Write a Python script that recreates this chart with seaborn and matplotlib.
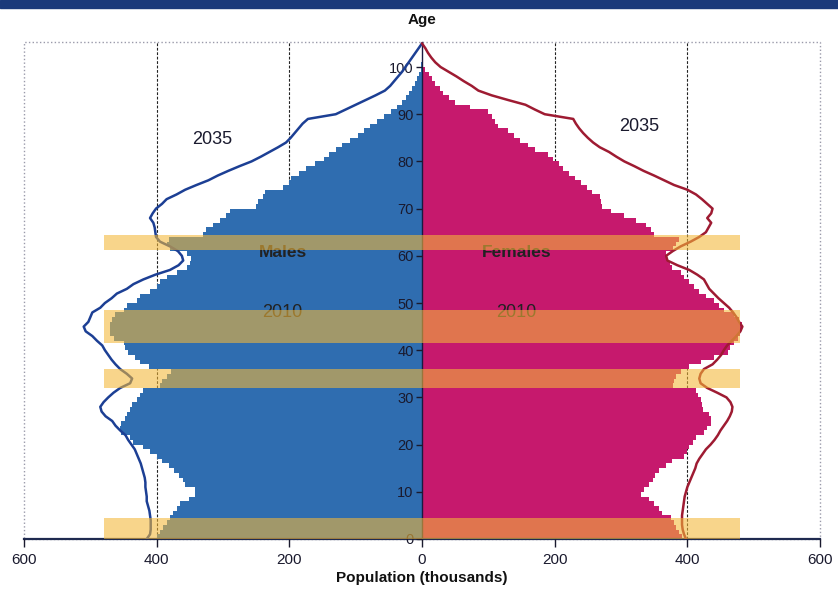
import numpy as np
import pandas as pd
import matplotlib
matplotlib.use("Agg")
import matplotlib.pyplot as plt
import seaborn as sns
from matplotlib.patches import Rectangle

# ------------------------------------------------------------------
# Data (thousands)
# ------------------------------------------------------------------
ages = np.arange(0, 101)

male_2010 = [
    400, 395, 390, 385, 380, 375, 370, 365, 352, 342,
    342, 357, 360, 367, 374, 382, 392, 400, 410, 420,
    435, 440, 454, 455, 454, 447, 445, 440, 437, 430,
    425, 420, 395, 392, 385, 378, 412, 425, 432, 443,
    447, 450, 465, 470, 470, 470, 468, 463, 450, 445,
    430, 425, 410, 400, 395, 385, 370, 355, 350, 348,
    355, 380, 385, 382, 330, 325, 315, 305, 295, 290,
    250, 247, 240, 236, 210, 200, 198, 185, 175, 162,
    148, 140, 130, 120, 108, 96, 88, 78, 68, 57,
    46, 38, 30, 24, 19, 15, 11, 7, 4, 2,
    1,
]

female_2010 = [
    392, 387, 383, 380, 376, 362, 358, 350, 342, 330,
    335, 342, 348, 352, 358, 368, 377, 395, 400, 403,
    408, 413, 425, 430, 436, 436, 432, 423, 422, 420,
    416, 413, 378, 380, 383, 390, 403, 420, 440, 461,
    465, 471, 476, 480, 482, 482, 478, 470, 455, 448,
    440, 428, 418, 410, 402, 395, 390, 377, 374, 370,
    368, 378, 383, 387, 350, 345, 337, 322, 305, 285,
    272, 270, 268, 256, 248, 240, 230, 221, 213, 206,
    198, 190, 170, 160, 148, 138, 130, 115, 110, 105,
    100, 72, 50, 40, 32, 27, 20, 15, 10, 5,
    2,
]

line_ages = np.arange(0, 106)

male_2035 = [
    415, 410, 409, 409, 409, 410, 411, 413, 415, 415,
    416, 417, 417, 418, 420, 422, 424, 427, 430, 433,
    438, 443, 447, 455, 462, 467, 477, 483, 485, 480,
    473, 465, 455, 440, 437, 445, 455, 462, 468, 473,
    478, 482, 490, 497, 507, 510, 503, 500, 497, 485,
    478, 468, 460, 445, 435, 420, 402, 380, 367, 360,
    362, 368, 380, 395, 401, 402, 403, 405, 410, 406,
    401, 392, 385, 370, 357, 340, 322, 308, 292, 275,
    257, 243, 230, 217, 205, 198, 192, 186, 180, 172,
    130, 115, 100, 85, 70, 56, 48, 42, 36, 30,
    25, 20, 15, 10, 5, 0,
]

female_2035 = [
    398, 395, 393, 392, 392, 392, 393, 394, 395, 396,
    398, 400, 403, 406, 409, 412, 414, 418, 423, 428,
    435, 441, 446, 450, 455, 460, 464, 467, 468, 465,
    459, 445, 430, 420, 418, 420, 425, 438, 445, 451,
    455, 460, 467, 474, 480, 483, 478, 474, 469, 463,
    455, 447, 440, 433, 429, 425, 415, 403, 385, 370,
    368, 378, 390, 405, 418, 428, 432, 436, 430, 436,
    438, 430, 422, 413, 400, 380, 365, 350, 334, 320,
    305, 293, 282, 268, 258, 250, 243, 237, 232, 228,
    185, 170, 156, 130, 105, 85, 75, 63, 52, 40,
    28, 20, 14, 9, 5, 0,
]

# highlighted cohorts (age ranges)
band_lo = [0.0, 32.0, 41.6, 61.3]
band_hi = [4.4, 36.0, 48.6, 64.5]

x_ticks = [-600, -400, -200, 0, 200, 400, 600]
y_ticks = list(range(0, 101, 10))
grid_x = [-400, -200, 200, 400]

MALE = "#2f6db0"
FEMALE = "#c6196d"
MALE_LINE = "#1c3f94"
FEMALE_LINE = "#9e1b32"
BAND = "#f4b838"
TEXT = "#1a1a2e"

# ------------------------------------------------------------------
# Figure
# ------------------------------------------------------------------
sns.set_style("ticks")
plt.rcParams["font.family"] = ["Liberation Sans", "DejaVu Sans"]

fig = plt.figure(figsize=(8.38, 5.89), dpi=100)
ax = fig.add_axes([24 / 838, 50 / 589, 796 / 838, 497 / 589])
ax.set_axisbelow(False)  # seaborn puts the axis under the bars; tick labels must sit on top

# slide header strip
fig.add_artist(Rectangle((0, 1 - 8 / 589), 1, 8 / 589, transform=fig.transFigure,
                         color="#1b3a7a", zorder=0))

for gx in grid_x:
    ax.axvline(gx, color="#222222", lw=0.8, ls=(0, (2.5, 1.5)), zorder=1)

bars = pd.DataFrame({
    "age": ages + 0.5,
    "male": -np.array(male_2010, dtype=float),
    "female": np.array(female_2010, dtype=float),
})
sns.barplot(data=bars, x="male", y="age", orient="y", native_scale=True,
            width=1.0, color=MALE, saturation=1, linewidth=0,
            errorbar=None, ax=ax, zorder=2)
sns.barplot(data=bars, x="female", y="age", orient="y", native_scale=True,
            width=1.0, color=FEMALE, saturation=1, linewidth=0,
            errorbar=None, ax=ax, zorder=2)

sns.lineplot(x=-np.array(male_2035, dtype=float), y=line_ages, sort=False,
             estimator=None, orient="y", color=MALE_LINE, lw=1.8, ax=ax, zorder=3)
sns.lineplot(x=np.array(female_2035, dtype=float), y=line_ages, sort=False,
             estimator=None, orient="y", color=FEMALE_LINE, lw=1.8, ax=ax, zorder=3)

# annotations (drawn under the bands)
ax.text(-317, 84.6, "2035", ha="center", va="center", fontsize=13, color=TEXT, zorder=3.5)
ax.text(328, 87.3, "2035", ha="center", va="center", fontsize=13, color=TEXT, zorder=3.5)
ax.text(-210, 60.6, "Males", ha="center", va="center", fontsize=12.5,
        fontweight="bold", color="#222222", zorder=3.5)
ax.text(142, 60.6, "Females", ha="center", va="center", fontsize=12.5,
        fontweight="bold", color="#222222", zorder=3.5)
ax.text(-210, 47.9, "2010", ha="center", va="center", fontsize=13, color="#222222", zorder=3.5)
ax.text(142, 47.9, "2010", ha="center", va="center", fontsize=13, color="#222222", zorder=3.5)

# highlighted cohort bands
lo = np.array(band_lo)
hi = np.array(band_hi)
ax.barh(y=(lo + hi) / 2, width=960, left=-480, height=hi - lo,
        color=BAND, alpha=0.58, linewidth=0, zorder=4)

# ------------------------------------------------------------------
# Axes styling
# ------------------------------------------------------------------
ax.set_xlim(-600, 600)
ax.set_ylim(0, 105.3)

ax.spines["top"].set_visible(False)
ax.spines["right"].set_visible(False)
ax.spines["left"].set_position(("data", 0))
ax.spines["left"].set_color("#1a1a40")
ax.spines["left"].set_linewidth(1.0)
ax.spines["bottom"].set_color("#1f2a50")
ax.spines["bottom"].set_linewidth(1.6)

ax.add_patch(Rectangle((0, 0), 1, 1, transform=ax.transAxes, fill=False,
                       ls=":", ec="#9a9aaa", lw=1.0, zorder=0, clip_on=False))

ax.set_yticks(y_ticks)
ax.set_yticklabels([str(v) for v in y_ticks])
ax.set_xticks(x_ticks)
ax.set_xticklabels([str(abs(v)) for v in x_ticks])
ax.tick_params(axis="y", direction="out", length=4, width=1, labelsize=10.5,
               pad=2, colors=TEXT)
ax.tick_params(axis="x", direction="out", length=6, width=1, labelsize=11,
               pad=4, colors=TEXT)

ax.set_ylabel("")
ax.set_xlabel("Population (thousands)", fontsize=11, fontweight="bold",
              color="#111111", labelpad=3)
ax.text(0, 1.044, "Age", transform=ax.get_xaxis_transform(), ha="center",
        va="center", fontsize=11, fontweight="bold", color="#111111")

fig.savefig("out.png", dpi=100)
plt.close(fig)
